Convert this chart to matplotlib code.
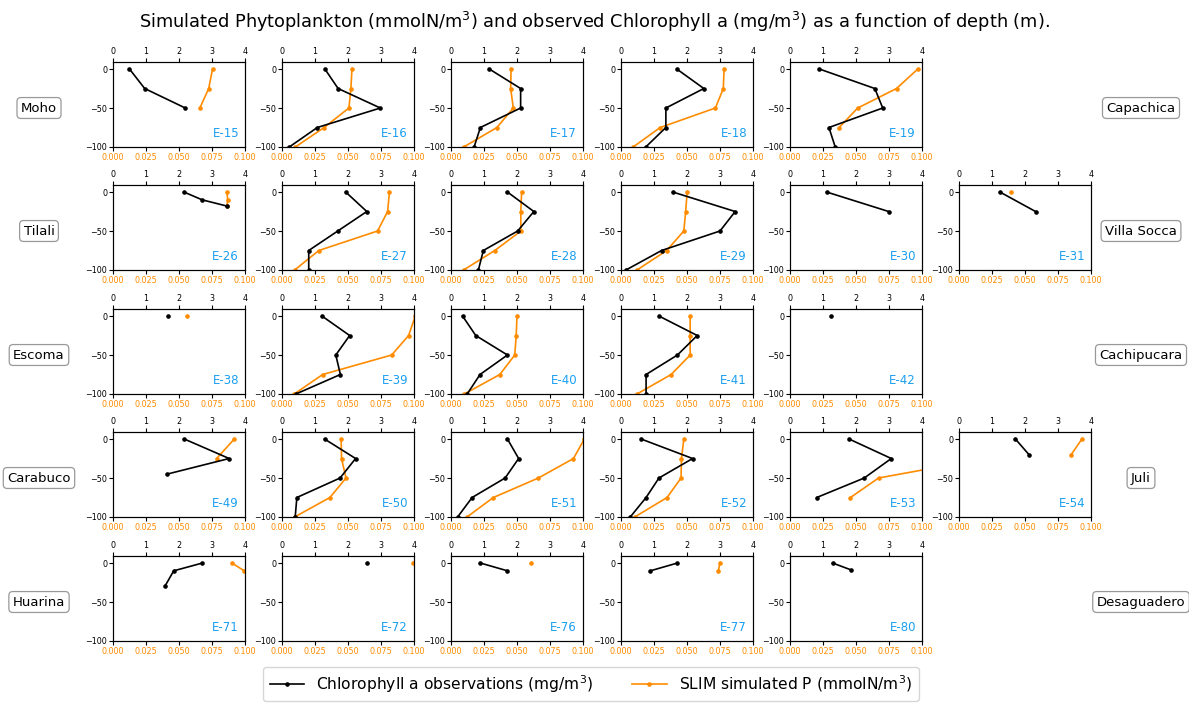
import matplotlib
matplotlib.use("Agg")
import matplotlib.pyplot as plt
from matplotlib.lines import Line2D
from matplotlib.ticker import FormatStrFormatter

# ---------------- data ----------------
D5 = [0, -25, -50, -75, -100]

E15_chl = [0.50, 0.96, 2.19]; E15_chl_z = [0, -25, -50]
E15_sim = [0.0754, 0.0725, 0.0658]; E15_sim_z = [0, -25, -50]
E16_chl = [1.30, 1.70, 2.98, 1.07, 0.22]; E16_chl_z = D5
E16_sim = [0.0530, 0.0522, 0.0507, 0.0319, 0.0101]; E16_sim_z = D5
E17_chl = [1.16, 2.11, 2.11, 0.89, 0.70]; E17_chl_z = D5
E17_sim = [0.0455, 0.0452, 0.0472, 0.0348, 0.0096]; E17_sim_z = D5
E18_chl = [1.69, 2.51, 1.36, 1.36, 0.75]; E18_chl_z = D5
E18_sim = [0.0781, 0.0775, 0.0715, 0.0297, 0.0092]; E18_sim_z = D5
E19_chl = [0.89, 2.57, 2.81, 1.18, 1.37]; E19_chl_z = D5
E19_sim = [0.0968, 0.0807, 0.0513, 0.0372]; E19_sim_z = [0, -25, -50, -75]

E26_chl = [2.15, 2.70, 3.45]; E26_chl_z = [0, -10, -18]
E26_sim = [0.0863, 0.0869, 0.0863]; E26_sim_z = [0, -10, -18]
E27_chl = [1.93, 2.57, 1.69, 0.81, 0.81]; E27_chl_z = D5
E27_sim = [0.0814, 0.0800, 0.0724, 0.0279, 0.0096]; E27_sim_z = D5
E28_chl = [1.71, 2.51, 2.02, 0.98, 0.83]; E28_chl_z = D5
E28_sim = [0.0535, 0.0529, 0.0529, 0.0332, 0.0095]; E28_sim_z = D5
E29_chl = [1.57, 3.46, 3.00, 1.23, 0.15]; E29_chl_z = D5
E29_sim = [0.0501, 0.0490, 0.0476, 0.0346, 0.0121]; E29_sim_z = D5
E30_chl = [1.11, 2.99]; E30_chl_z = [0, -25]
E30_sim = []; E30_sim_z = []
E31_chl = [1.24, 2.32]; E31_chl_z = [0, -25]
E31_sim = [0.0395]; E31_sim_z = [0]

E38_chl = [1.67]; E38_chl_z = [0]
E38_sim = [0.0558]; E38_sim_z = [0]
E39_chl = [1.21, 2.05, 1.63, 1.77, 0.42]; E39_chl_z = D5
E39_sim = [0.1010, 0.0959, 0.0831, 0.0308, 0.0093]; E39_sim_z = D5
E40_chl = [0.35, 0.75, 1.71, 0.88, 0.49]; E40_chl_z = D5
E40_sim = [0.0500, 0.0494, 0.0483, 0.0370, 0.0101]; E40_sim_z = D5
E41_chl = [1.15, 2.31, 1.71, 0.76, 0.76]; E41_chl_z = D5
E41_sim = [0.0524, 0.0524, 0.0524, 0.0380, 0.0121]; E41_sim_z = D5
E42_chl = [1.23]; E42_chl_z = [0]
E42_sim = []; E42_sim_z = []

E49_chl = [2.16, 3.52, 1.64]; E49_chl_z = [0, -25, -45]
E49_sim = [0.0919, 0.0785]; E49_sim_z = [0, -25]
E50_chl = [1.29, 2.23, 1.76, 0.45, 0.40]; E50_chl_z = D5
E50_sim = [0.0448, 0.0451, 0.0485, 0.0363, 0.0096]; E50_sim_z = D5
E51_chl = [1.71, 2.05, 1.64, 0.64, 0.20]; E51_chl_z = D5
E51_sim = [0.1010, 0.0928, 0.0662, 0.0321, 0.0121]; E51_sim_z = D5
E52_chl = [0.61, 2.17, 1.15, 0.76, 0.28]; E52_chl_z = D5
E52_sim = [0.0476, 0.0458, 0.0455, 0.0349, 0.0104]; E52_sim_z = D5
E53_chl = [1.79, 3.07, 2.25, 0.81]; E53_chl_z = [0, -25, -50, -75]
E53_sim = [0.148, 0.0671, 0.0458]; E53_sim_z = [-25, -50, -75]
E54_chl = [1.71, 2.12]; E54_chl_z = [0, -20]
E54_sim = [0.0931, 0.0850]; E54_sim_z = [0, -20]

E71_chl = [2.71, 1.84, 1.57]; E71_chl_z = [0, -10, -30]
E71_sim = [0.0901, 0.0994]; E71_sim_z = [0, -10]
E72_chl = [2.58]; E72_chl_z = [0]
E72_sim = [0.0995]; E72_sim_z = [0]
E76_chl = [0.89, 1.71]; E76_chl_z = [0, -10]
E76_sim = [0.0607]; E76_sim_z = [0]
E77_chl = [1.71, 0.89]; E77_chl_z = [0, -10]
E77_sim = [0.0749, 0.0738]; E77_sim_z = [0, -10]
E80_chl = [1.29, 1.86]; E80_chl_z = [0, -9]
E80_sim = []; E80_sim_z = []

left_labels = ["Moho", "Tilali", "Escoma", "Carabuco", "Huarina"]
right_labels = ["Capachica", "Villa Socca", "Cachipucara", "Juli", "Desaguadero"]

grid = [
    ["E-15", "E-16", "E-17", "E-18", "E-19", None],
    ["E-26", "E-27", "E-28", "E-29", "E-30", "E-31"],
    ["E-38", "E-39", "E-40", "E-41", "E-42", None],
    ["E-49", "E-50", "E-51", "E-52", "E-53", "E-54"],
    ["E-71", "E-72", "E-76", "E-77", "E-80", None],
]

chl_ticks = [0, 1, 2, 3, 4]
sim_ticks = [0.0, 0.025, 0.05, 0.075, 0.1]
depth_ticks = [0, -50, -100]

g = globals()
table = {}
for row in grid:
    for name in row:
        if name is None:
            continue
        k = name.replace("-", "")
        table[name] = (g[k + "_chl"], g[k + "_chl_z"], g[k + "_sim"], g[k + "_sim_z"])

# ---------------- styling / layout ----------------
ORANGE = "#ff8c00"
BLUE = "#1a9ff0"
W, H = 1189, 703
col_left = [113, 282, 451, 621, 790, 959]
row_top = [62, 185, 309, 432, 556]
ax_w, ax_h = 132, 85
YLIM = (-100, 9)
TICK_FS = 5.8

fig = plt.figure(figsize=(W / 100, H / 100), dpi=100)

for r, row in enumerate(grid):
    for c, name in enumerate(row):
        if name is None:
            continue
        chl, chl_z, sim, sim_z = table[name]
        ax = fig.add_axes([col_left[c] / W, 1 - (row_top[r] + ax_h) / H, ax_w / W, ax_h / H])
        ax.set_xlim(0, 0.1)
        ax.set_ylim(*YLIM)
        if len(sim):
            ax.plot(sim, sim_z, color=ORANGE, marker="o", ms=2.3, lw=1.2)
        ax.set_xticks(sim_ticks)
        ax.xaxis.set_major_formatter(FormatStrFormatter("%.3f"))
        ax.set_yticks(depth_ticks)
        ax.tick_params(axis="x", labelcolor=ORANGE, labelsize=TICK_FS, pad=1.5, length=2.6)
        ax.tick_params(axis="y", labelsize=TICK_FS, pad=1.5, length=2.6)
        ax2 = ax.twiny()
        ax2.set_xlim(0, 4)
        ax2.set_ylim(*YLIM)
        ax2.plot(chl, chl_z, color="black", marker="o", ms=2.3, lw=1.2)
        ax2.set_xticks(chl_ticks)
        ax2.tick_params(axis="x", labelsize=TICK_FS, pad=1.5, length=2.6)
        ax.text(0.955, 0.158, name, transform=ax.transAxes, ha="right", va="center",
                color=BLUE, fontsize=8.5)

box = dict(boxstyle="round,pad=0.3", fc="white", ec="#999999", lw=0.9)
for r in range(5):
    yc = 1 - (row_top[r] + ax_h * (YLIM[1] + 50) / (YLIM[1] - YLIM[0])) / H
    fig.text(39 / W, yc, left_labels[r], ha="center", va="center", fontsize=9.5, bbox=box)
    fig.text(1141 / W, yc, right_labels[r], ha="center", va="center", fontsize=9.5, bbox=box)

fig.text(0.5, 1 - 22 / H,
         r"Simulated Phytoplankton (mmolN/m$^3$) and observed Chlorophyll a (mg/m$^3$) as a function of depth (m).",
         ha="center", va="center", fontsize=12.8)

handles = [
    Line2D([], [], color="black", marker="o", ms=2.3, lw=1.2,
           label=r"Chlorophyll a observations (mg/m$^3$)"),
    Line2D([], [], color=ORANGE, marker="o", ms=2.3, lw=1.2,
           label=r"SLIM simulated P (mmolN/m$^3$)"),
]
fig.legend(handles=handles, ncol=2, loc="lower center", bbox_to_anchor=(0.497, -0.008),
           fontsize=11.2, frameon=True, columnspacing=2.5, handlelength=2.2)

fig.savefig("out.png", dpi=100)
